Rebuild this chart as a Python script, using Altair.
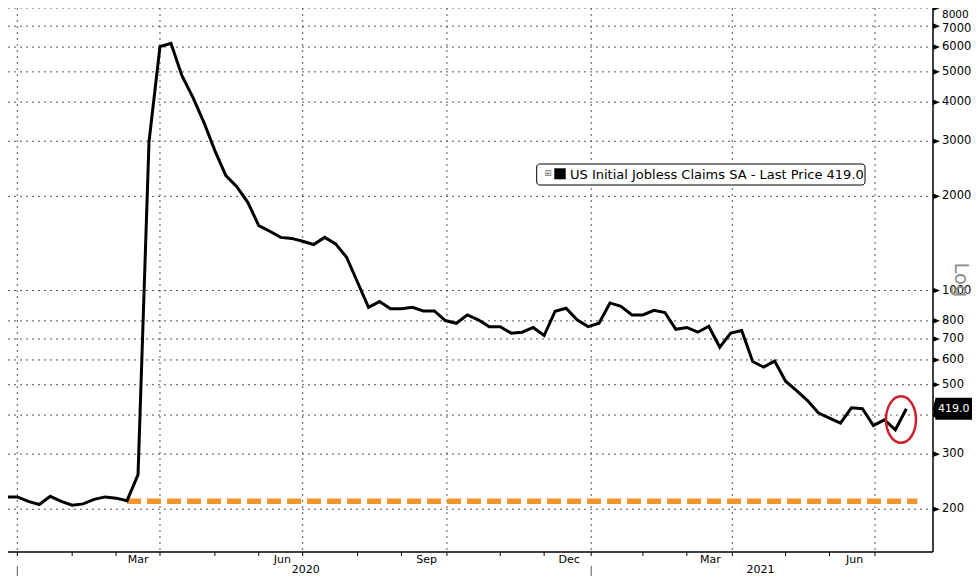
import altair as alt
import pandas as pd

# ---------------- data ----------------
claims = [
    230, 219, 219, 212, 207, 220, 212, 206, 208, 215, 219, 217, 213, 258,
    2990, 6020, 6170, 4864, 4146, 3450, 2801, 2330, 2149, 1915, 1613, 1547,
    1479, 1468, 1438, 1403, 1479, 1410, 1278, 1063, 884, 922, 874, 874, 884,
    861, 861, 802, 786, 836, 806, 766, 766, 731, 736, 762, 718, 859, 878,
    806, 767, 786, 913, 891, 836, 836, 865, 851, 752, 762, 736, 769, 659,
    731, 745, 593, 569, 595, 513, 479, 445, 406, 391, 377, 422, 419, 370,
    386, 359, 419,
]
week_dates = pd.date_range("2019-12-18", periods=len(claims), freq="7D").strftime("%Y-%m-%d").tolist()

pre_covid_level = [212, 212]
pre_covid_dates = ["2020-03-11", "2021-07-28"]

y_ticks = [200, 300, 400, 500, 600, 700, 800, 1000, 2000, 3000, 4000, 5000, 6000, 7000, 8000]
y_tick_labels = [200, 300, 500, 600, 700, 800, 1000, 2000, 3000, 4000, 5000, 6000]  # 400 sits under the price tag
y_label_7000 = [7000]
y_label_8000 = [8000]
quarter_starts = ["2020-01-01", "2020-04-01", "2020-07-01", "2020-10-01",
                  "2021-01-01", "2021-04-01", "2021-07-01"]
month_labels = ["Mar", "Jun", "Sep", "Dec", "Mar", "Jun"]
month_label_dates = ["2020-03-18", "2020-06-18", "2020-09-18", "2020-12-18",
                     "2021-03-18", "2021-06-18"]
year_labels = ["2020", "2021"]
year_label_dates = ["2020-07-03", "2021-04-19"]
year_starts = ["2020-01-01", "2021-01-01"]

highlight_date = ["2021-07-17T14:00:00Z"]
highlight_value = [387]

series_name = "US Initial Jobless Claims SA"
last_value = claims[-1]

# ---------------- setup ----------------
W, H = 925, 544
FONT = "DejaVu Sans"
GRID = "#555"

x_scale = alt.Scale(type="utc", nice=False,
                    domain=[alt.DateTime(year=2019, month=12, date=26, hours=1, minutes=40, utc=True),
                            alt.DateTime(year=2021, month=8, date=7, utc=True)])
y_scale = alt.Scale(type="log", domain=[146, 8000], nice=False, zero=False)

def X(field="date"):
    return alt.X(f"{field}:T", scale=x_scale, axis=None)

def Y(field):
    return alt.Y(f"{field}:Q", scale=y_scale, axis=None)

def lab_df(vals):
    return pd.DataFrame({"v": vals, "label": [str(v) for v in vals]})

df = pd.DataFrame({"date": week_dates, "claims": claims})
df_base = pd.DataFrame({"date": pre_covid_dates, "claims": pre_covid_level})
df_yt = pd.DataFrame({"v": y_ticks})

# first weekly observation in each non-quarter month -> minor ticks
dts = pd.to_datetime(df["date"])
first_in_month = df.assign(ym=dts.dt.to_period("M")).groupby("ym")["date"].first()
minor = [d for d in first_in_month.tolist()
         if d >= "2020-01-01" and int(d[5:7]) not in (1, 4, 7, 10)]
df_minor = pd.DataFrame({"date": minor})
df_one = pd.DataFrame({"k": [0]})

# ---------------- guides ----------------
h_grid = alt.Chart(df_yt).mark_rule(color=GRID, strokeWidth=1, strokeDash=[2, 4]).encode(
    y=Y("v"), x=alt.value(0), x2=alt.value(W))
v_grid = alt.Chart(pd.DataFrame({"date": quarter_starts})).mark_rule(
    color=GRID, strokeWidth=1, strokeDash=[2, 4]).encode(x=X(), y=alt.value(0), y2=alt.value(H))
q_ticks = alt.Chart(pd.DataFrame({"date": quarter_starts})).mark_rule(color="black", strokeWidth=1).encode(
    x=X(), y=alt.value(H), y2=alt.value(H + 4))
minor_ticks = alt.Chart(df_minor).mark_rule(color="black", strokeWidth=1).encode(
    x=X(), y=alt.value(H), y2=alt.value(H + 4))
x_domain = alt.Chart(df_one).mark_rule(color="black", strokeWidth=1.5).encode(
    x=alt.value(0), x2=alt.value(W), y=alt.value(H))
y_domain = alt.Chart(df_one).mark_rule(color="black", strokeWidth=1.5).encode(
    x=alt.value(W), y=alt.value(0), y2=alt.value(H))
year_sep = alt.Chart(pd.DataFrame({"date": year_starts})).mark_rule(color="#555", strokeWidth=1).encode(
    x=X(), y=alt.value(H + 14), y2=alt.value(H + 24))
month_text = alt.Chart(pd.DataFrame({"date": month_label_dates, "label": month_labels})).mark_text(
    font=FONT, fontSize=11, color="black", align="center", baseline="middle").encode(
    x=X(), y=alt.value(H + 7.5), text="label:N")
year_text = alt.Chart(pd.DataFrame({"date": year_label_dates, "label": year_labels})).mark_text(
    font=FONT, fontSize=11, color="black", align="center", baseline="middle").encode(
    x=X(), y=alt.value(H + 18), text="label:N")

tri_path = "M -1,-0.8 L 1,0 L -1,0.8 Z"
triangles = alt.Chart(df_yt).mark_point(
    shape=tri_path, size=49, filled=True, color="black", opacity=1, strokeWidth=0).encode(
    x=alt.value(W + 3.5), y=Y("v"))
LX = W + 9
y_labels = alt.Chart(lab_df(y_tick_labels)).mark_text(
    font=FONT, fontSize=11.5, color="black", align="left", baseline="middle").encode(
    x=alt.value(LX), y=Y("v"), text="label:N")
y_lab_7000 = alt.Chart(lab_df(y_label_7000)).mark_text(
    font=FONT, fontSize=11.5, color="black", align="left", baseline="middle", dy=3).encode(
    x=alt.value(LX), y=Y("v"), text="label:N")
y_lab_8000 = alt.Chart(lab_df(y_label_8000)).mark_text(
    font=FONT, fontSize=10.5, color="black", align="left", baseline="top", dy=2).encode(
    x=alt.value(LX), y=Y("v"), text="label:N")

log_text = alt.Chart(pd.DataFrame({"t": ["Log"]})).mark_text(
    font=FONT, fontSize=19.5, color="#8c8c8c", angle=90, align="center", baseline="middle").encode(
    x=alt.value(W + 28), y=alt.value(272), text="t:N")

# ---------------- data marks ----------------
line = alt.Chart(df).mark_line(color="black", strokeWidth=3, clip=True).encode(x=X(), y=Y("claims"))
base = alt.Chart(df_base).mark_line(color="#F0962E", strokeWidth=5.5, strokeDash=[14, 6]).encode(
    x=X(), y=Y("claims"))

ellipse_path = ("M 0,-1 C 0.356,-1 0.644,-0.552 0.644,0 C 0.644,0.552 0.356,1 0,1 "
                "C -0.356,1 -0.644,0.552 -0.644,0 C -0.644,-0.552 -0.356,-1 0,-1 Z")
ellipse = alt.Chart(pd.DataFrame({"date": highlight_date, "claims": highlight_value})).mark_point(
    shape=ellipse_path, size=2172, filled=False, color="#D0202E", strokeWidth=2.5, opacity=1).encode(
    x=X(), y=Y("claims"))

tag_path = "M -1,0 L -0.85,-0.56 L 1,-0.56 L 1,0.56 L -0.85,0.56 Z"
df_last = pd.DataFrame({"v": [last_value], "label": [f"{last_value:.1f}"]})
tag = alt.Chart(df_last).mark_point(
    shape=tag_path, size=1544, filled=True, color="black", opacity=1, strokeWidth=0).encode(
    x=alt.value(W + 19.35), y=Y("v"))
tag_text = alt.Chart(df_last).mark_text(
    font=FONT, fontSize=11, color="white", align="center", baseline="middle").encode(
    x=alt.value(W + 20.8), y=Y("v"), text="label:N")

# legend box
df_leg = pd.DataFrame({"t": [f"{series_name} - Last Price {last_value:.1f}"]})
leg_box = alt.Chart(df_leg).mark_rect(fill="white", stroke="black", strokeWidth=1, cornerRadius=3).encode(
    x=alt.value(528.7), x2=alt.value(857), y=alt.value(156), y2=alt.value(177))
leg_sq = alt.Chart(df_leg).mark_rect(fill="black").encode(
    x=alt.value(546.3), x2=alt.value(557.7), y=alt.value(160.3), y2=alt.value(171.3))
leg_icon = alt.Chart(pd.DataFrame({"t": ["\u229e"]})).mark_text(
    font=FONT, fontSize=9, color="#777", align="center", baseline="middle").encode(
    x=alt.value(540), y=alt.value(165), text="t:N")
leg_text = alt.Chart(df_leg).mark_text(
    font=FONT, fontSize=13, color="black", align="left", baseline="middle").encode(
    x=alt.value(562), y=alt.value(166.5), text="t:N")

chart = alt.layer(
    h_grid, v_grid, q_ticks, minor_ticks, x_domain, y_domain, year_sep, month_text, year_text,
    y_labels, y_lab_7000, y_lab_8000, log_text,
    base, line, ellipse,
    leg_box, leg_sq, leg_icon, leg_text, tag, tag_text, triangles,
).properties(
    width=W, height=H,
    autosize=alt.AutoSizeParams(type="none"),
    padding={"left": 0, "top": 0, "right": 39, "bottom": 24},
    background="white",
).configure_view(strokeWidth=0)

chart.save("out.html", embed_options={"renderer": "svg", "actions": False})
